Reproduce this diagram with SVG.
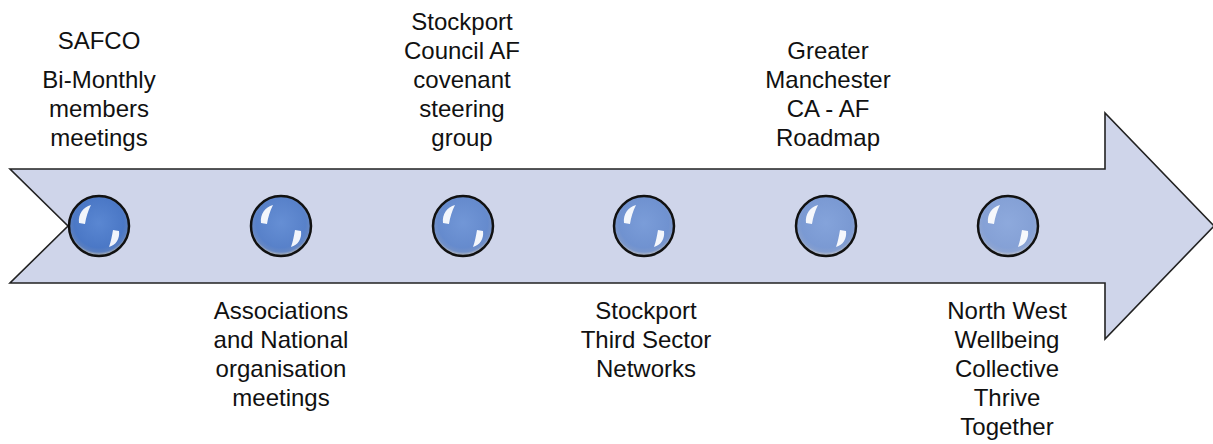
<svg xmlns="http://www.w3.org/2000/svg" width="1213" height="444" viewBox="0 0 1213 444">
  <style>
    .lbl { font-family: "Liberation Sans", Arial, sans-serif; font-size: 24px; fill: #111; text-anchor: middle; }
    .ball { stroke: #111; stroke-width: 2.5; }
    .hl { fill: #fff; opacity: 0.92; }
  </style>
  <defs>
    <radialGradient id="orb" cx="50%" cy="45%" r="55%">
      <stop offset="0" stop-color="#5a87d2"/>
      <stop offset="0.75" stop-color="#4b78c6"/>
      <stop offset="0.88" stop-color="#5a7fc0"/>
      <stop offset="0.95" stop-color="#9aa6b8"/>
      <stop offset="1" stop-color="#7a8598"/>
    </radialGradient>
    <g id="gloss">
      <path class="hl" d="M-20,-3 C-21,-12 -16,-19 -8,-21 C-11,-15 -13,-9 -14,-2 Z"/>
      <path class="hl" d="M20,5 C21,13 17,19 10,21 C12,15 13,10 14,4 Z"/>
    </g>
  </defs>

  <g id="timeline-arrow">
    <path d="M10,169 L1105,169 L1105,113 L1214,226 L1105,339 L1105,283 L10,283 L68,226 Z" fill="#cfd5ea" stroke="#222" stroke-width="1.6" stroke-linejoin="miter"/>
  </g>

  <g id="node-safco">
    <circle class="ball" cx="99" cy="226" r="30" fill="url(#orb)"/>
    <use href="#gloss" x="99" y="226"/>
    <text class="lbl" x="99" y="49">SAFCO</text>
    <text class="lbl" x="99" y="88">Bi-Monthly</text>
    <text class="lbl" x="99" y="117">members</text>
    <text class="lbl" x="99" y="146">meetings</text>
  </g>

  <g id="node-associations">
    <circle class="ball" cx="281" cy="226" r="30" fill="url(#orb)" fill-opacity="0.9"/>
    <use href="#gloss" x="281" y="226"/>
    <text class="lbl" x="281" y="319">Associations</text>
    <text class="lbl" x="281" y="348">and National</text>
    <text class="lbl" x="281" y="377">organisation</text>
    <text class="lbl" x="281" y="406">meetings</text>
  </g>

  <g id="node-stockport-council">
    <circle class="ball" cx="463" cy="226" r="30" fill="url(#orb)" fill-opacity="0.8"/>
    <use href="#gloss" x="463" y="226"/>
    <text class="lbl" x="462" y="30">Stockport</text>
    <text class="lbl" x="462" y="59">Council AF</text>
    <text class="lbl" x="462" y="88">covenant</text>
    <text class="lbl" x="462" y="117">steering</text>
    <text class="lbl" x="462" y="146">group</text>
  </g>

  <g id="node-stockport-third-sector">
    <circle class="ball" cx="644" cy="226" r="30" fill="url(#orb)" fill-opacity="0.72"/>
    <use href="#gloss" x="644" y="226"/>
    <text class="lbl" x="646" y="319">Stockport</text>
    <text class="lbl" x="646" y="348">Third Sector</text>
    <text class="lbl" x="646" y="377">Networks</text>
  </g>

  <g id="node-greater-manchester">
    <circle class="ball" cx="826" cy="226" r="30" fill="url(#orb)" fill-opacity="0.64"/>
    <use href="#gloss" x="826" y="226"/>
    <text class="lbl" x="828" y="59">Greater</text>
    <text class="lbl" x="828" y="88">Manchester</text>
    <text class="lbl" x="828" y="117">CA - AF</text>
    <text class="lbl" x="828" y="146">Roadmap</text>
  </g>

  <g id="node-north-west">
    <circle class="ball" cx="1008" cy="226" r="30" fill="url(#orb)" fill-opacity="0.56"/>
    <use href="#gloss" x="1008" y="226"/>
    <text class="lbl" x="1007" y="319">North West</text>
    <text class="lbl" x="1007" y="348">Wellbeing</text>
    <text class="lbl" x="1007" y="377">Collective</text>
    <text class="lbl" x="1007" y="406">Thrive</text>
    <text class="lbl" x="1007" y="435">Together</text>
  </g>
</svg>
